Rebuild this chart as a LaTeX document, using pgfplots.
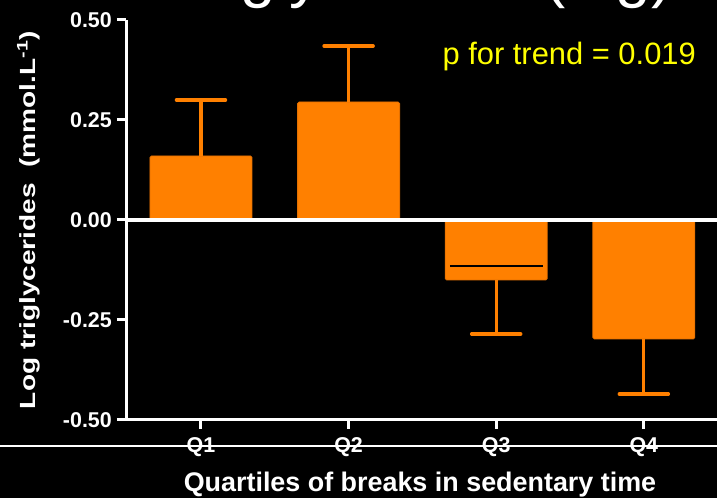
\documentclass[border=0pt]{standalone}
\usepackage{pgfplots}
\pgfplotsset{compat=1.18}
\usepackage{fontspec}
\setmainfont{Liberation Sans}
\newfontfamily\ylabfont[FakeStretch=1.28]{Liberation Sans}
\definecolor{barorange}{RGB}{255,128,0}
\definecolor{baredge}{RGB}{228,112,0}
\definecolor{trendyellow}{RGB}{255,255,0}

\begin{document}
\begin{tikzpicture}[x=1bp,y=1bp]
% slide background
\fill[black] (0,0) rectangle (717,498);
% slide title, running off the top edge
\node[anchor=base west, white, font=\fontsize{64}{64}\selectfont, inner sep=0pt]
  at (168,502.4) {Triglycerides (log)};
% thin separator rule of the slide
\draw[white, line width=1.3bp] (0,52) -- (717,52);

\begin{axis}[
  at={(126bp,78bp)}, anchor=south west,
  scale only axis, width=599bp, height=400bp,
  xmin=0.492, xmax=4.55, ymin=-0.5, ymax=0.5,
  axis x line*=bottom, axis y line*=left,
  axis line style={white, line width=3bp},
  tick align=outside, major tick length=9bp,
  tick style={white, line width=3bp},
  xtick={1,2,3,4}, xticklabels={Q1,Q2,Q3,Q4},
  ytick={-0.5,-0.25,0,0.25,0.5},
  yticklabels={-0.50,-0.25,0.00,0.25,0.50},
  tick label style={white, font=\fontsize{21.5}{21.5}\selectfont\bfseries, inner sep=0pt},
  yticklabel style={xshift=-5bp},
  xticklabel style={yshift=-8bp},
  xlabel={Quartiles of breaks in sedentary time},
  xlabel style={white, font=\fontsize{27}{27}\selectfont\bfseries,
    at={(axis description cs:0.4908,-0.18)}, anchor=base},
  ylabel={Log triglycerides\ \ (mmol.L\textsuperscript{-1})},
  ylabel style={white, font=\ylabfont\fontsize{22}{22}\selectfont\bfseries,
    at={(axis description cs:-0.1519,0.5)}, anchor=base},
]
% group means
\addplot[ybar, bar width=102bp, bar shift=0pt, fill=barorange, draw=baredge,
  line width=0.8bp, rounded corners=1.5bp]
  coordinates {(1,0.16) (2,0.295) (3,-0.15) (4,-0.2975)};
% error bars pointing away from zero
\addplot[draw=none, mark=none, forget plot,
  error bars/.cd, y dir=plus, y explicit, error mark=|,
  error bar style={draw=barorange, line width=3.3bp},
  error mark options={draw=barorange, mark size=24.5bp, line width=3.5bp, line cap=round}]
  coordinates {(1,0.16) +- (0,0.14) (2,0.295) +- (0,0.14)};
\addplot[draw=none, mark=none, forget plot,
  error bars/.cd, y dir=minus, y explicit, error mark=|,
  error bar style={draw=barorange, line width=3.3bp},
  error mark options={draw=barorange, mark size=24.5bp, line width=3.5bp, line cap=round}]
  coordinates {(3,-0.15) +- (0,0.135) (4,-0.2975) +- (0,0.1375)};
% thin mark inside the Q3 bar
\addplot[black, line width=1.1bp, forget plot]
  coordinates {(2.686,-0.115) (3.314,-0.115)};
% zero reference line
\addplot[white, line width=4.3bp, forget plot]
  coordinates {(0.492,0) (4.55,0)};
\end{axis}

\node[anchor=base east, trendyellow, font=\fontsize{31}{31}\selectfont, inner sep=0pt]
  at (696,433) {p for trend = 0.019};

\pgfresetboundingbox
\useasboundingbox (0,0) rectangle (717,498);
\end{tikzpicture}
\end{document}
